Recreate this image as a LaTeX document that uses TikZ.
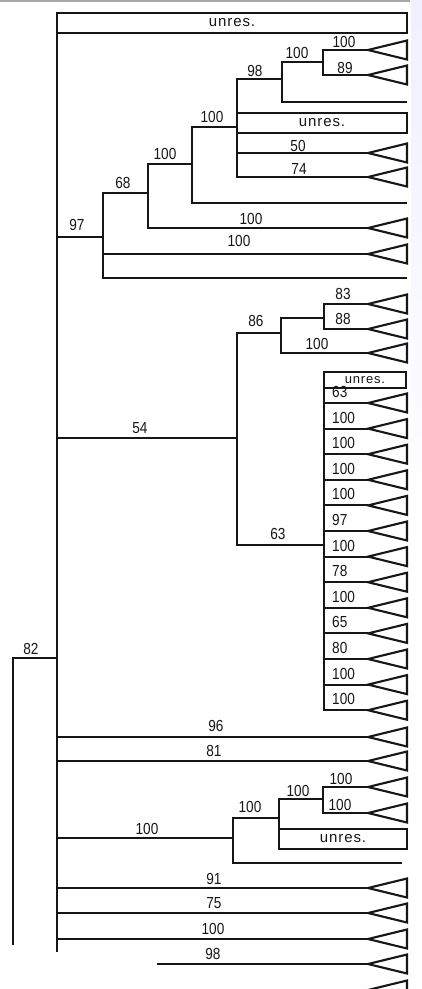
\documentclass[tikz,border=0pt]{standalone}
\usepackage{fontspec}
\newfontfamily\lblfont[FakeStretch=0.85]{Liberation Sans}
\newfontfamily\unresfont[LetterSpace=6]{Liberation Sans}
\definecolor{ink}{HTML}{161616}
\begin{document}
\begin{tikzpicture}[x=1pt,y=-1pt,
  br/.style={draw=ink,line width=2.1pt},
  lab/.style={font=\lblfont\fontsize{16}{16}\selectfont,text=ink,inner sep=0pt},
  unresbox/.style={draw=ink,line width=2.1pt,inner sep=0pt,outer sep=0pt,
    font=\unresfont\fontsize{15}{15}\selectfont,text=ink,minimum height=20pt},
  clade/.pic={\draw[br,line join=miter] (0,0) -- (39,-9.5) -- (39,9.5) -- cycle;}]
\useasboundingbox (0,0) rectangle (422,989);
\fill[white] (0,0) rectangle (422,989);
\shade[top color=blue!6,bottom color=white] (411,0) rectangle (422,520);
\draw[gray!70,line width=1.5pt] (0,0.8) -- (410,0.8);

% spine and root
\coordinate (sTop) at (57,13);
\coordinate (sBot) at (57,952);
\coordinate (sp) at (57,658);
\coordinate (rt) at (13,658);
\coordinate (rtEnd) at (13,945);
\draw[br] (sTop) -- (sBot);
\draw[br] (sp) -- (rt) -- (rtEnd);
\node[lab] (l82) at (31,649) {82};

% top unresolved
\node[unresbox,minimum width=350pt] (u1) at (232,23) {unres.};

% clade 97
\coordinate (n97) at (103,237);
\coordinate (n68) at (148,193);
\coordinate (nA) at (192,164);
\coordinate (nB) at (237,127);
\coordinate (nC) at (282,79);
\coordinate (nD) at (323,62);
\coordinate (t1) at (368,50);
\coordinate (t2) at (368,75);
\coordinate (e1) at (407,102);
\node[unresbox,minimum width=170pt] (u2) at (322,123) {unres.};
\coordinate (t3) at (368,153);
\coordinate (t4) at (368,177);
\coordinate (e2) at (407,203);
\coordinate (t5) at (368,228);
\coordinate (t6) at (368,254);
\coordinate (e3) at (407,278);
\draw[br] (n97) -| (sp);
\draw[br] (n68) -| (n97);
\draw[br] (t6) -| (n97);
\draw[br] (e3) -| (n97);
\draw[br] (nA) -| (n68);
\draw[br] (t5) -| (n68);
\draw[br] (nB) -| (nA);
\draw[br] (e2) -| (nA);
\draw[br] (nC) -| (nB);
\draw[br] (u2.west) -| (nB);
\draw[br] (t3) -| (nB);
\draw[br] (t4) -| (nB);
\draw[br] (nD) -| (nC);
\draw[br] (e1) -| (nC);
\draw[br] (t1) -| (nD);
\draw[br] (t2) -| (nD);
\foreach \t in {t1,t2,t3,t4,t5,t6} \pic at (\t) {clade};
\node[lab] (l97) at (77,225) {97};
\node[lab] (l68) at (123,183) {68};
\node[lab] (lA) at (165,154) {100};
\node[lab] (lB) at (212,117) {100};
\node[lab] (lC) at (255,71) {98};
\node[lab] (lD) at (297,53) {100};
\node[lab] (lt1) at (344,42) {100};
\node[lab] (lt2) at (345,68) {89};
\node[lab] (lt3) at (298,146) {50};
\node[lab] (lt4) at (299,169) {74};
\node[lab] (lt5) at (251,219) {100};
\node[lab] (lt6) at (239,241) {100};

% clade 54
\coordinate (n54) at (237,438);
\coordinate (n86) at (281,333);
\coordinate (n8x) at (324,318);
\coordinate (t7) at (368,304);
\coordinate (t8) at (368,329);
\coordinate (t9) at (368,353);
\coordinate (n63) at (324,545);
\draw[br] (n54) -| (sp);
\draw[br] (n86) -| (n54);
\draw[br] (n63) -| (n54);
\draw[br] (n8x) -| (n86);
\draw[br] (t9) -| (n86);
\draw[br] (t7) -| (n8x);
\draw[br] (t8) -| (n8x);
\foreach \t in {t7,t8,t9} \pic at (\t) {clade};
\node[lab] (l54) at (140,428) {54};
\node[lab] (l86) at (256,321) {86};
\node[lab] (lt7) at (343,294) {83};
\node[lab] (lt8) at (343,319) {88};
\node[lab] (lt9) at (317,344) {100};
\node[lab] (l63) at (278,534) {63};
\node[unresbox,minimum width=82pt,minimum height=16pt,
  font=\unresfont\fontsize{13}{13}\selectfont] (u3) at (365,380) {unres.};
\draw[br] (u3.north west) -| (n63);
\foreach \v [count=\i from 0] in {63,100,100,100,100,97,100,78,100,65,80,100,100} {
  \coordinate (p\i) at (368,{403+25.6*\i});
  \draw[br] (p\i) -| (n63);
  \pic at (p\i) {clade};
  \node[lab,anchor=west] (pl\i) at (332,{403+25.6*\i-11}) {\v};
}

% lower part
\coordinate (t10) at (368,737);
\coordinate (t11) at (368,761);
\draw[br] (t10) -| (sp);
\draw[br] (t11) -| (sp);
\foreach \t in {t10,t11} \pic at (\t) {clade};
\node[lab] (lt10) at (216,726) {96};
\node[lab] (lt11) at (214,751) {81};

\coordinate (nE) at (233,838);
\coordinate (nF) at (279,818);
\coordinate (nG) at (323,799);
\coordinate (t12) at (368,787);
\coordinate (t13) at (368,813);
\coordinate (e4) at (402,863);
\node[unresbox,minimum width=128pt] (u4) at (343,839) {unres.};
\draw[br] (nE) -| (sp);
\draw[br] (nF) -| (nE);
\draw[br] (e4) -| (nE);
\draw[br] (nG) -| (nF);
\draw[br] (u4.south west) -| (nF);
\draw[br] (t12) -| (nG);
\draw[br] (t13) -| (nG);
\foreach \t in {t12,t13} \pic at (\t) {clade};
\node[lab] (lE) at (147,829) {100};
\node[lab] (lF) at (250,807) {100};
\node[lab] (lG) at (298,791) {100};
\node[lab] (lt12) at (341,779) {100};
\node[lab] (lt13) at (340,805) {100};

\coordinate (t14) at (368,888);
\coordinate (t15) at (368,913);
\coordinate (t16) at (368,939);
\coordinate (t17) at (368,964);
\coordinate (f17) at (157,964);
\coordinate (t18) at (368,990);
\draw[br] (t14) -| (sp);
\draw[br] (t15) -| (sp);
\draw[br] (t16) -| (sp);
\draw[br] (f17) -- (t17);
\foreach \t in {t14,t15,t16,t17} \pic at (\t) {clade};
\begin{scope}
\clip (0,0) rectangle (422,989);
\pic at (t18) {clade};
\end{scope}
\node[lab] (lt14) at (214,879) {91};
\node[lab] (lt15) at (214,903) {75};
\node[lab] (lt16) at (213,929) {100};
\node[lab] (lt17) at (213,954) {98};
\end{tikzpicture}
\end{document}
